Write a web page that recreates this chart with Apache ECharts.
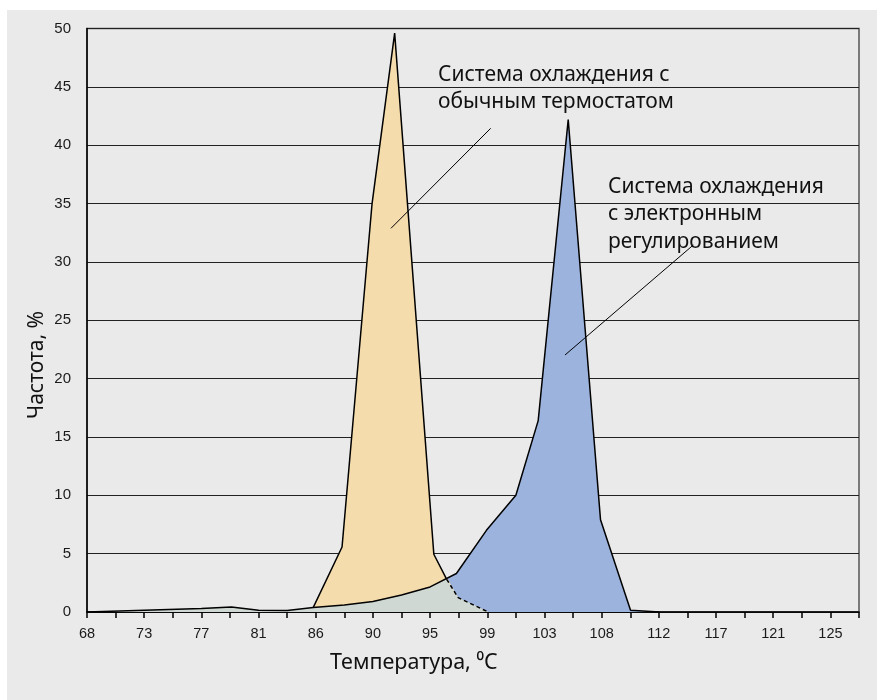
<!DOCTYPE html>
<html>
<head>
<meta charset="utf-8">
<script src="https://cdn.jsdelivr.net/npm/echarts@6/dist/echarts.min.js"></script>
<style>
  html, body { margin: 0; padding: 0; background: #fff; }
  #chart { width: 877px; height: 700px; }
</style>
</head>
<body>
<div id="chart"></div>
<script>
// x is counted in small tick steps from the left edge, every second tick is labelled
const tickLabels = ['68', '73', '77', '81', '86', '90', '95', '99', '103', '108', '112', '117', '121', '125'];

// Система охлаждения с электронным регулированием (blue)
const electronic = [[0, 0], [2, 0.15], [4, 0.3], [5.05, 0.42], [6, 0.15], [7, 0.12], [7.91, 0.38], [9, 0.6],
    [10, 0.9], [11, 1.45], [12, 2.15], [12.92, 3.3], [13.97, 7.0], [15, 10.0], [15.78, 16.4], [16.83, 42.2],
    [17.96, 7.9], [19.01, 0.15], [20.01, 0]];
// Система охлаждения с обычным термостатом (yellow)
const thermostat = [[7.91, 0.38], [8.92, 5.57], [9.97, 35], [10.76, 49.6], [12.13, 4.95], [12.98, 1.23], [14.03, 0]];
// point where the thermostat outline goes under the blue area and turns dashed
const crossing = [12.58, 2.8];

const before = p => p[0] < crossing[0];
const after = p => p[0] > crossing[0];
const thermoSolid = thermostat.filter(before).concat([crossing]);
const thermoDashed = [crossing].concat(thermostat.filter(after));
// grey part = where both areas overlap
const overlap = electronic.filter(before).concat([crossing], thermostat.filter(after));

const FONT = '"Noto Sans", sans-serif';

function area(data, color, z) {
    return {
        type: 'line', data: data, z: z, symbol: 'none', silent: true, animation: false,
        lineStyle: { width: 0 },
        areaStyle: { color: color, opacity: 1 }
    };
}
function outline(data, dash) {
    return {
        type: 'line', data: data, z: 6, symbol: 'none', silent: true, animation: false,
        lineStyle: { color: '#000', width: 1.5, type: dash }
    };
}

let myChart = echarts.init(document.getElementById('chart'));
let option = {
    backgroundColor: '#fff',
    animation: false,
    grid: {
        show: true, left: 87, right: 18, top: 28.5, bottom: 88,
        backgroundColor: '#eaeaea', borderColor: '#555', borderWidth: 1.5
    },
    xAxis: {
        type: 'value', min: 0, max: 27, interval: 1,
        axisLine: { lineStyle: { color: '#000', width: 1.5 } },
        axisTick: { show: true, length: 6, lineStyle: { color: '#000', width: 1.5 } },
        axisLabel: {
            color: '#1a1a1a', fontFamily: '"Liberation Sans", Arial', fontSize: 14.5, margin: 14,
            formatter: v => (v % 2 === 0 ? (tickLabels[v / 2] || '') : '')
        },
        splitLine: { show: false }
    },
    yAxis: {
        type: 'value', min: 0, max: 50, interval: 5,
        axisLine: { show: true, lineStyle: { color: '#000', width: 1.5 } },
        axisTick: { show: false },
        axisLabel: { color: '#1a1a1a', fontFamily: '"Liberation Sans", Arial', fontSize: 15, margin: 16 },
        splitLine: { lineStyle: { color: '#222', width: 1 } }
    },
    series: [
        area(electronic, '#9bb3dd', 2),
        area(thermostat, '#f5dcac', 3),
        area(overlap, '#cfd8d3', 4),
        outline(electronic, 'solid'),
        outline(thermoSolid, 'solid'),
        outline(thermoDashed, [4, 3])
    ],
    graphic: [
        { type: 'rect', silent: true, z: -10, shape: { x: 7, y: 10, width: 870, height: 690 }, style: { fill: '#eaeaea' } },
        { type: 'text', silent: true, z: 10, style: { x: 438, y: 62, text: 'Система охлаждения с\nобычным термостатом',
            font: '21px ' + FONT, fill: '#111', lineHeight: 27, textVerticalAlign: 'top' } },
        { type: 'text', silent: true, z: 10, style: { x: 608, y: 173, text: 'Система охлаждения\nс электронным\nрегулированием',
            font: '21px ' + FONT, fill: '#111', lineHeight: 27.5, textVerticalAlign: 'top' } },
        { type: 'text', silent: true, z: 10, style: { x: 330, y: 663, text: 'Температура, ⁰C',
            font: '21.5px ' + FONT, fill: '#111', textVerticalAlign: 'middle' } },
        { type: 'text', silent: true, z: 10, rotation: Math.PI / 2, x: 37, y: 365,
            style: { x: 0, y: 0, text: 'Частота, %', font: '21px ' + FONT, fill: '#111', textAlign: 'center', textVerticalAlign: 'middle' } },
        { type: 'line', silent: true, z: 10, shape: { x1: 490.7, y1: 128.3, x2: 391, y2: 228.3 }, style: { stroke: '#000', lineWidth: 1 } },
        { type: 'line', silent: true, z: 10, shape: { x1: 693.3, y1: 245, x2: 565, y2: 355 }, style: { stroke: '#000', lineWidth: 1 } }
    ]
};
myChart.setOption(option);
</script>
</body>
</html>
